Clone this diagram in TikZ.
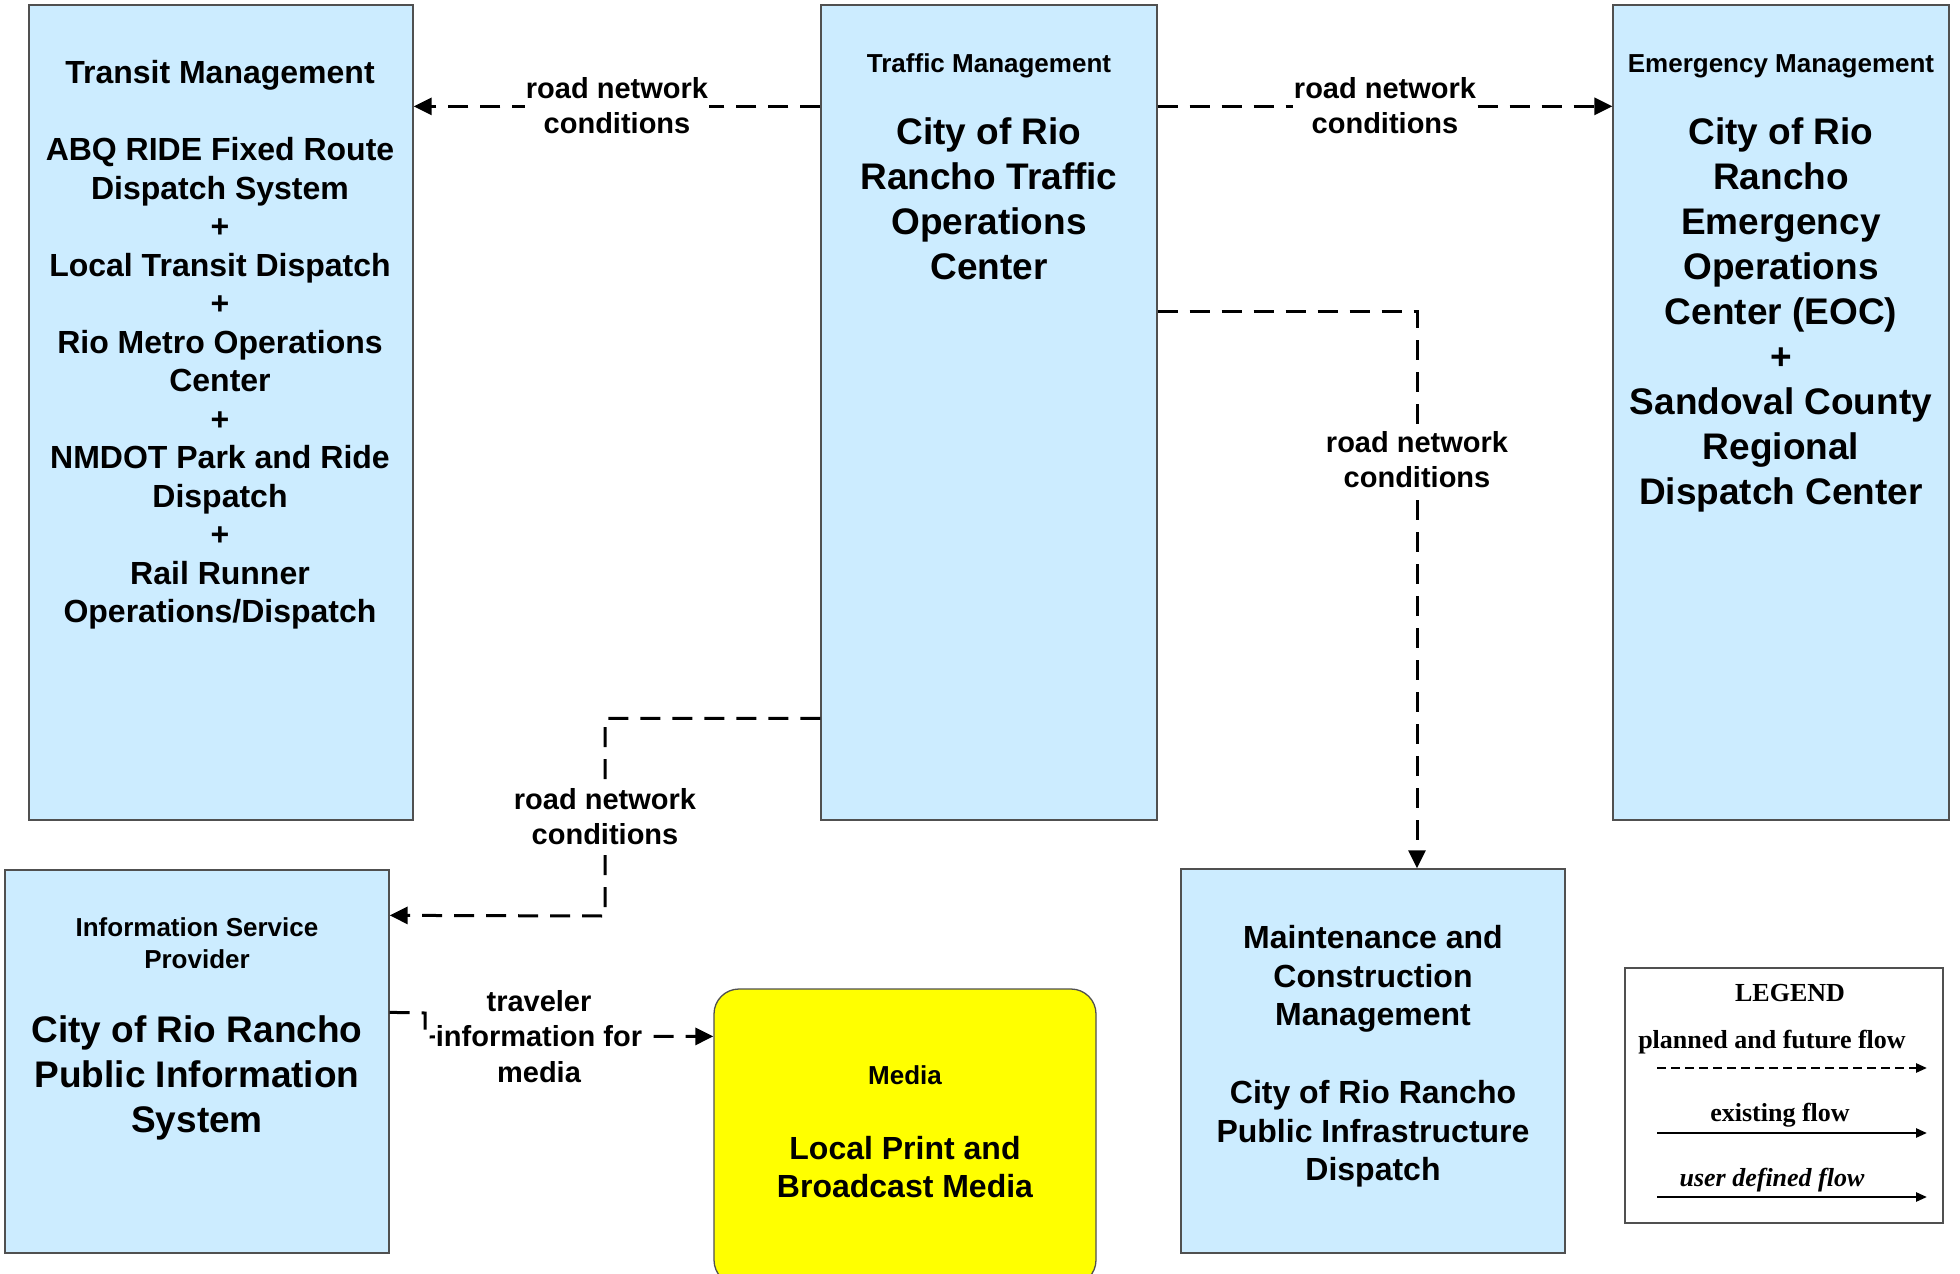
\documentclass[tikz,border=0pt]{standalone}
\usepackage{fontspec}
\setmainfont{Liberation Sans}
\newfontfamily\legendfont{Liberation Serif}
\usetikzlibrary{arrows.meta}
\definecolor{boxblue}{RGB}{204,236,255}
\definecolor{boxline}{RGB}{80,80,80}
\definecolor{medyellow}{RGB}{255,255,0}
\begin{document}
\begin{tikzpicture}[x=1pt,y=-1pt,
  box/.style={rectangle, draw=boxline, line width=1.3pt, fill=boxblue, inner sep=0pt},
  txt/.style={align=center, inner sep=0pt, font=\bfseries},
  flow/.style={line width=3pt, dash pattern=on 20pt off 12pt, -{Triangle[length=18pt,width=17pt]}},
  lbl/.style={fill=white, align=center, inner xsep=1pt, inner ysep=2pt, anchor=north, font=\bfseries\fontsize{29}{35.5}\selectfont},
  legtxt/.style={inner sep=0pt, anchor=base, font=\legendfont\bfseries\fontsize{26}{31}\selectfont},
  legarrow/.style={line width=2.5pt, -{Triangle[length=11pt,width=9pt]}},
]
\useasboundingbox (0,0) rectangle (1960,1274);

% boxes
\node[box, minimum width=384pt, minimum height=815pt] (tm) at (221,412.5) {};
\node[box, minimum width=336pt, minimum height=815pt] (tf) at (989,412.5) {};
\node[box, minimum width=336pt, minimum height=815pt] (em) at (1781,412.5) {};
\node[box, minimum width=384pt, minimum height=383pt] (isp) at (197,1061.5) {};
\node[rectangle, draw=boxline, line width=1.3pt, fill=medyellow, rounded corners=25pt, inner sep=0pt,
      minimum width=382pt, minimum height=296pt] (media) at (905,1137) {};
\node[box, minimum width=384pt, minimum height=384pt] (mc) at (1373,1061) {};
\node[rectangle, draw=boxline, line width=1.3pt, fill=white, inner sep=0pt,
      minimum width=318pt, minimum height=255pt] (legend) at (1784,1095.5) {};

% box texts
\node[txt, anchor=north, font=\bfseries\fontsize{32}{38.5}\selectfont] (tmtext) at (220,60.5)
  {Transit Management\\[38.5pt]
   ABQ RIDE Fixed Route\\Dispatch System\\+\\Local Transit Dispatch\\+\\Rio Metro Operations\\Center\\+\\NMDOT Park and Ride\\Dispatch\\+\\Rail Runner\\Operations/Dispatch};

\node[txt, anchor=base, font=\bfseries\fontsize{26}{32}\selectfont] (tfhead) at (989,72) {Traffic Management};
\node[txt, anchor=north, font=\bfseries\fontsize{37}{45}\selectfont] (tfbody) at (989,117.4)
  {City of Rio\\Rancho Traffic\\Operations\\Center};

\node[txt, anchor=base, font=\bfseries\fontsize{26}{32}\selectfont] (emhead) at (1781,72) {Emergency Management};
\node[txt, anchor=north, font=\bfseries\fontsize{37}{45}\selectfont] (embody) at (1781,117.4)
  {City of Rio\\Rancho\\Emergency\\Operations\\Center (EOC)\\+\\Sandoval County\\Regional\\Dispatch Center};

\node[txt, anchor=north, font=\bfseries\fontsize{26}{32.5}\selectfont] (isphead) at (197,917.3)
  {Information Service\\Provider};
\node[txt, anchor=north, font=\bfseries\fontsize{37}{45}\selectfont] (ispbody) at (197,1015.4)
  {City of Rio Rancho\\Public Information\\System};

\node[txt, anchor=base, font=\bfseries\fontsize{26}{32}\selectfont] (mediahead) at (905,1084) {Media};
\node[txt, anchor=north, font=\bfseries\fontsize{32}{38}\selectfont] (mediabody) at (905,1136)
  {Local Print and\\Broadcast Media};

\node[txt, anchor=north, font=\bfseries\fontsize{32}{38.75}\selectfont] (mctext) at (1373,925)
  {Maintenance and\\Construction\\Management\\[38.75pt]
   City of Rio Rancho\\Public Infrastructure\\Dispatch};

% connectors
\draw[flow] ([yshift=-102pt]tf.north west) -- ([yshift=-102pt]tm.north east);
\draw[flow] ([yshift=-102pt]tf.north east) -- ([yshift=-102pt]em.north west);
\draw[flow] ([yshift=-307pt]tf.north east) -| ([xshift=44pt]mc.north);
\draw[flow] ([yshift=-714pt]tf.north west) -| (605,916) -- ([yshift=-46pt]isp.north east);
\draw[flow] ([yshift=-143pt]isp.north east) -- (425,1013) -- (425,1037) -- ([yshift=-48pt]media.north west);

% connector labels
\node[lbl] (l1) at (617,75) {road network\\conditions};
\node[lbl] (l2) at (1385,75) {road network\\conditions};
\node[lbl] (l3) at (1417,429) {road network\\conditions};
\node[lbl] (l4) at (605,786) {road network\\conditions};
\node[lbl] (l5) at (539,988) {traveler\\information for\\media};

% legend
\node[legtxt] (legtitle) at (1790,1001) {LEGEND};
\node[legtxt] (legplanned) at (1772,1048) {planned and future flow};
\node[legtxt] (legexist) at (1780,1121) {existing flow};
\node[legtxt, font=\legendfont\bfseries\itshape\fontsize{26}{31}\selectfont] (leguser) at (1772,1186) {user defined flow};
\coordinate (la1) at (1657,1068);
\coordinate (lb1) at (1927,1068);
\coordinate (la2) at (1657,1133);
\coordinate (lb2) at (1927,1133);
\coordinate (la3) at (1657,1197);
\coordinate (lb3) at (1927,1197);
\draw[legarrow, dash pattern=on 9pt off 5pt] (la1) -- (lb1);
\draw[legarrow] (la2) -- (lb2);
\draw[legarrow] (la3) -- (lb3);
\end{tikzpicture}
\end{document}
